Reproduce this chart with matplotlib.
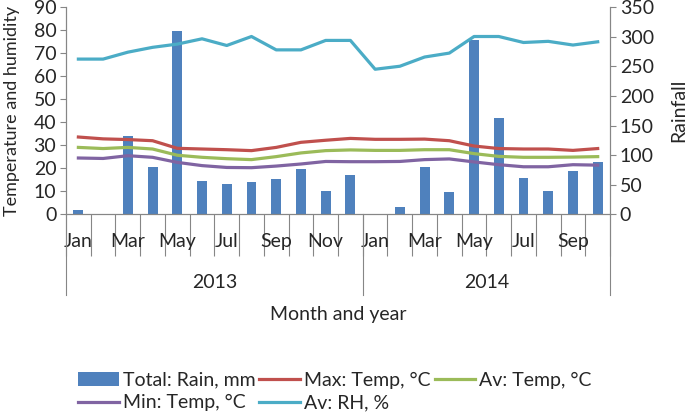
import numpy as np
import matplotlib.pyplot as plt
from matplotlib.lines import Line2D

plt.rcParams['font.family'] = ['Lato', 'DejaVu Sans']

# Datos (ene 2013 - oct 2014)
meses = ['Jan', 'Feb', 'Mar', 'Apr', 'May', 'Jun', 'Jul', 'Aug', 'Sep', 'Oct', 'Nov', 'Dec',
         'Jan', 'Feb', 'Mar', 'Apr', 'May', 'Jun', 'Jul', 'Aug', 'Sep', 'Oct']
anios = ['2013', '2014']
meses_por_anio = [12, 10]

lluvia = [8, 0, 133, 80, 309, 57, 51, 55, 60, 76, 40, 66,
          0, 12, 80, 38, 294, 163, 61, 39, 74, 88]
temp_max = [33.6, 32.8, 32.5, 32.0, 28.7, 28.4, 28.1, 27.7, 29.1, 31.3, 32.2, 33.0,
            32.6, 32.6, 32.7, 32.0, 29.7, 28.6, 28.4, 28.4, 27.8, 28.6]
temp_av = [29.1, 28.6, 29.1, 28.4, 25.7, 24.8, 24.2, 23.8, 25.1, 26.7, 27.7, 28.0,
           27.8, 27.8, 28.1, 28.1, 26.4, 25.2, 24.8, 24.8, 24.9, 25.1]
temp_min = [24.5, 24.3, 25.5, 24.8, 22.6, 21.2, 20.4, 20.3, 21.0, 21.9, 23.0, 22.9,
            22.9, 23.0, 23.8, 24.1, 22.8, 21.6, 20.7, 20.7, 21.6, 21.4]
hr_av = [67.4, 67.4, 70.4, 72.5, 73.9, 76.2, 73.3, 77.2, 71.4, 71.4, 75.5, 75.5,
         63.0, 64.3, 68.3, 70.0, 77.2, 77.2, 74.6, 75.1, 73.5, 74.9]

GRIS = '#868686'
TEXTO = '#262626'
FS = 14

x = np.arange(len(meses))

fig = plt.figure(figsize=(6.87, 4.16), dpi=100)
ax = fig.add_axes([0.0961, 0.4844, 0.7919, 0.4988])
ax2 = ax.twinx()
ax.set_zorder(ax2.get_zorder() + 1)
ax.patch.set_visible(False)

barras = ax2.bar(x, lluvia, width=0.4, color='#4F81BD', label='Total: Rain, mm')
l1, = ax.plot(x, temp_max, color='#C0504D', lw=2.3, label='Max: Temp, °C')
l2, = ax.plot(x, temp_av, color='#9BBB59', lw=2.3, label='Av: Temp, °C')
l3, = ax.plot(x, temp_min, color='#8064A2', lw=2.3, label='Min: Temp, °C')
l4, = ax.plot(x, hr_av, color='#4BACC6', lw=2.3, label='Av: RH, %')

ax.set_xlim(-0.5, len(meses) - 0.5)
ax.set_ylim(0, 90)
ax.set_yticks(np.arange(0, 91, 10))
ax2.set_ylim(0, 350)
ax2.set_yticks(np.arange(0, 351, 50))

for a in (ax, ax2):
    for s in a.spines.values():
        s.set_color(GRIS)
    a.spines['top'].set_visible(False)
    a.tick_params(axis='y', colors=GRIS, labelcolor=TEXTO, labelsize=FS, length=4, width=0.8, pad=3)

# eje de categorias: separadores de mes y etiquetas cada dos meses
ax.set_xticks(np.arange(-0.5, len(meses), 1.0))
ax.set_xticklabels([])
ax.tick_params(axis='x', which='major', direction='out', length=30, width=0.8, colors=GRIS)
ax.set_xticks(x[::2], minor=True)
ax.set_xticklabels(meses[::2], minor=True)
ax.tick_params(axis='x', which='minor', length=0, pad=13, labelsize=FS, labelcolor=TEXTO)

trans = ax.get_xaxis_transform()
inicio = -0.5
for anio, n in zip(anios, meses_por_anio):
    ax.text(inicio + n / 2, -0.33, anio, transform=trans, ha='center', va='center',
            fontsize=FS, color=TEXTO)
    inicio += n
for borde in np.cumsum([0] + meses_por_anio) - 0.5:
    ax.add_line(Line2D([borde, borde], [0, -0.388], transform=trans, color=GRIS,
                       lw=0.8, clip_on=False))

ax.text(0.5, -0.48, 'Month and year', transform=ax.transAxes, ha='center', va='center',
        fontsize=FS, color=TEXTO)
ax.set_ylabel('Temperature and humidity', fontsize=13, color=TEXTO)
ax.yaxis.set_label_coords(-0.085, 0.5)
ax2.set_ylabel('Rainfall', fontsize=FS, color=TEXTO, labelpad=12)

# orden por columnas para que las filas queden como en el original
fig.legend(handles=[barras, l3, l1, l4, l2], loc='center', bbox_to_anchor=(0.4876, 0.059),
           ncol=3, frameon=False, fontsize=FS, handlelength=2.1, handletextpad=0.2,
           columnspacing=0.2, labelspacing=0.3, labelcolor=TEXTO, borderpad=0.2)

fig.savefig('out.png', dpi=100)
